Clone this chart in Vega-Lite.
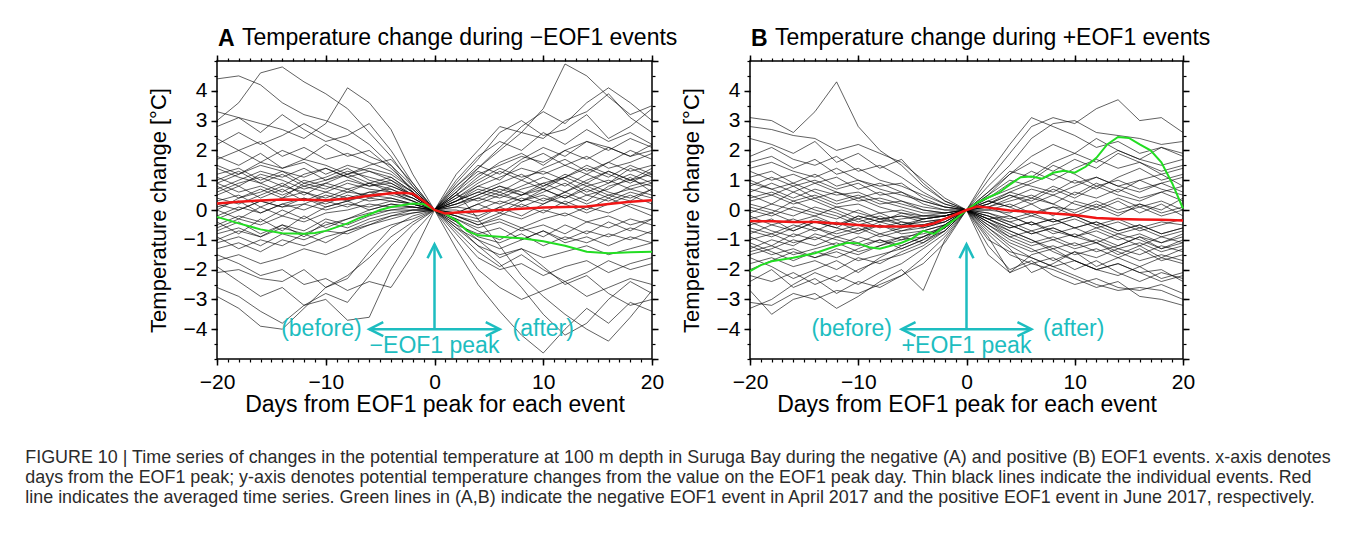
{
"$schema": "https://vega.github.io/schema/vega-lite/v6.json",
"background": "white",
"padding": {"left": 25, "top": 26, "right": 5, "bottom": 5},
"bounds": "flush",
"spacing": 98,
"title": {"text": ["FIGURE 10 | Time series of changes in the potential temperature at 100 m depth in Suruga Bay during the negative (A) and positive (B) EOF1 events. x-axis denotes", "days from the EOF1 peak; y-axis denotes potential temperature changes from the value on the EOF1 peak day. Thin black lines indicate the individual events. Red", "line indicates the averaged time series. Green lines in (A,B) indicate the negative EOF1 event in April 2017 and the positive EOF1 event in June 2017, respectively."], "orient": "bottom", "anchor": "start", "frame": "bounds", "offset": 32, "dx": -121, "font": "Liberation Sans", "fontSize": 17.9, "fontWeight": "normal", "color": "#2b2b2b", "lineHeight": 20},
"config": {
  "view": {"stroke": "#000", "strokeWidth": 1.5},
  "font": "Liberation Sans",
  "axis": {"grid": false, "domain": false, "tickColor": "#000", "labelColor": "#000", "titleColor": "#000", "labelFont": "Liberation Sans", "titleFont": "Liberation Sans", "titleFontWeight": "normal", "labelFlush": false, "labelOverlap": false},
  "title": {"font": "Liberation Sans", "fontSize": 23, "fontWeight": "normal", "anchor": "start", "frame": "group", "color": "#000", "offset": -22, "dx": 25}
},
"datasets": {
"a": [
{"e":1,"d":-20,"t":3.0},{"e":1,"d":-18,"t":3.6},{"e":1,"d":-16,"t":4.6},{"e":1,"d":-14,"t":4.8},{"e":1,"d":-12,"t":4.3},{"e":1,"d":-10,"t":3.9},{"e":1,"d":-8,"t":3.4},{"e":1,"d":-6,"t":2.6},{"e":1,"d":-4,"t":1.8},{"e":1,"d":-2,"t":0.8},{"e":1,"d":0,"t":0},{"e":1,"d":2,"t":0.6},{"e":1,"d":4,"t":1.4},{"e":1,"d":6,"t":2.0},{"e":1,"d":8,"t":2.6},{"e":1,"d":10,"t":3.4},{"e":1,"d":12,"t":4.9},{"e":1,"d":14,"t":4.5},{"e":1,"d":16,"t":3.8},{"e":1,"d":18,"t":3.2},{"e":1,"d":20,"t":3.5},
{"e":2,"d":-20,"t":4.4},{"e":2,"d":-18,"t":4.5},{"e":2,"d":-16,"t":4.2},{"e":2,"d":-14,"t":3.6},{"e":2,"d":-12,"t":3.2},{"e":2,"d":-10,"t":3.0},{"e":2,"d":-8,"t":2.7},{"e":2,"d":-6,"t":2.2},{"e":2,"d":-4,"t":1.5},{"e":2,"d":-2,"t":0.6},{"e":2,"d":0,"t":0},{"e":2,"d":2,"t":-0.5},{"e":2,"d":4,"t":-1.2},{"e":2,"d":6,"t":-1.8},{"e":2,"d":8,"t":-2.6},{"e":2,"d":10,"t":-3.5},{"e":2,"d":12,"t":-4.2},{"e":2,"d":14,"t":-3.8},{"e":2,"d":16,"t":-3.0},{"e":2,"d":18,"t":-2.4},{"e":2,"d":20,"t":-2.8},
{"e":3,"d":-20,"t":2.8},{"e":3,"d":-18,"t":3.1},{"e":3,"d":-16,"t":2.9},{"e":3,"d":-14,"t":2.7},{"e":3,"d":-12,"t":2.4},{"e":3,"d":-10,"t":2.9},{"e":3,"d":-8,"t":4.1},{"e":3,"d":-6,"t":3.6},{"e":3,"d":-4,"t":2.7},{"e":3,"d":-2,"t":1.2},{"e":3,"d":0,"t":0},{"e":3,"d":2,"t":1.2},{"e":3,"d":4,"t":2.0},{"e":3,"d":6,"t":2.8},{"e":3,"d":8,"t":2.6},{"e":3,"d":10,"t":2.4},{"e":3,"d":12,"t":3.0},{"e":3,"d":14,"t":3.3},{"e":3,"d":16,"t":3.9},{"e":3,"d":18,"t":3.1},{"e":3,"d":20,"t":2.6},
{"e":4,"d":-20,"t":3.3},{"e":4,"d":-18,"t":3.1},{"e":4,"d":-16,"t":2.6},{"e":4,"d":-14,"t":3.2},{"e":4,"d":-12,"t":2.7},{"e":4,"d":-10,"t":2.3},{"e":4,"d":-8,"t":2.5},{"e":4,"d":-6,"t":2.9},{"e":4,"d":-4,"t":2.0},{"e":4,"d":-2,"t":0.9},{"e":4,"d":0,"t":0},{"e":4,"d":2,"t":0.9},{"e":4,"d":4,"t":1.7},{"e":4,"d":6,"t":2.6},{"e":4,"d":8,"t":3.0},{"e":4,"d":10,"t":2.5},{"e":4,"d":12,"t":2.7},{"e":4,"d":14,"t":3.2},{"e":4,"d":16,"t":2.4},{"e":4,"d":18,"t":2.8},{"e":4,"d":20,"t":3.4},
{"e":5,"d":-20,"t":2.4},{"e":5,"d":-18,"t":2.0},{"e":5,"d":-16,"t":2.3},{"e":5,"d":-14,"t":1.8},{"e":5,"d":-12,"t":2.1},{"e":5,"d":-10,"t":1.7},{"e":5,"d":-8,"t":1.9},{"e":5,"d":-6,"t":1.6},{"e":5,"d":-4,"t":1.3},{"e":5,"d":-2,"t":0.7},{"e":5,"d":0,"t":0},{"e":5,"d":2,"t":0.5},{"e":5,"d":4,"t":1.1},{"e":5,"d":6,"t":1.6},{"e":5,"d":8,"t":1.9},{"e":5,"d":10,"t":1.5},{"e":5,"d":12,"t":2.0},{"e":5,"d":14,"t":2.3},{"e":5,"d":16,"t":2.1},{"e":5,"d":18,"t":1.8},{"e":5,"d":20,"t":2.2},
{"e":6,"d":-20,"t":1.8},{"e":6,"d":-18,"t":1.5},{"e":6,"d":-16,"t":1.9},{"e":6,"d":-14,"t":1.4},{"e":6,"d":-12,"t":1.6},{"e":6,"d":-10,"t":1.2},{"e":6,"d":-8,"t":1.5},{"e":6,"d":-6,"t":1.3},{"e":6,"d":-4,"t":1.1},{"e":6,"d":-2,"t":0.6},{"e":6,"d":0,"t":0},{"e":6,"d":2,"t":0.4},{"e":6,"d":4,"t":0.9},{"e":6,"d":6,"t":1.3},{"e":6,"d":8,"t":1.0},{"e":6,"d":10,"t":1.4},{"e":6,"d":12,"t":1.7},{"e":6,"d":14,"t":1.3},{"e":6,"d":16,"t":1.6},{"e":6,"d":18,"t":2.0},{"e":6,"d":20,"t":1.7},
{"e":7,"d":-20,"t":1.2},{"e":7,"d":-18,"t":1.4},{"e":7,"d":-16,"t":1.0},{"e":7,"d":-14,"t":1.3},{"e":7,"d":-12,"t":0.9},{"e":7,"d":-10,"t":1.1},{"e":7,"d":-8,"t":1.4},{"e":7,"d":-6,"t":1.0},{"e":7,"d":-4,"t":0.8},{"e":7,"d":-2,"t":0.5},{"e":7,"d":0,"t":0},{"e":7,"d":2,"t":0.3},{"e":7,"d":4,"t":0.6},{"e":7,"d":6,"t":0.9},{"e":7,"d":8,"t":1.2},{"e":7,"d":10,"t":0.8},{"e":7,"d":12,"t":1.1},{"e":7,"d":14,"t":1.5},{"e":7,"d":16,"t":1.2},{"e":7,"d":18,"t":0.9},{"e":7,"d":20,"t":1.3},
{"e":8,"d":-20,"t":0.9},{"e":8,"d":-18,"t":0.6},{"e":8,"d":-16,"t":0.8},{"e":8,"d":-14,"t":0.5},{"e":8,"d":-12,"t":0.8},{"e":8,"d":-10,"t":0.6},{"e":8,"d":-8,"t":0.9},{"e":8,"d":-6,"t":0.7},{"e":8,"d":-4,"t":0.6},{"e":8,"d":-2,"t":0.4},{"e":8,"d":0,"t":0},{"e":8,"d":2,"t":0.2},{"e":8,"d":4,"t":0.4},{"e":8,"d":6,"t":0.2},{"e":8,"d":8,"t":0.5},{"e":8,"d":10,"t":0.7},{"e":8,"d":12,"t":0.4},{"e":8,"d":14,"t":0.8},{"e":8,"d":16,"t":1.0},{"e":8,"d":18,"t":0.7},{"e":8,"d":20,"t":0.9},
{"e":9,"d":-20,"t":0.5},{"e":9,"d":-18,"t":0.8},{"e":9,"d":-16,"t":0.4},{"e":9,"d":-14,"t":0.7},{"e":9,"d":-12,"t":0.3},{"e":9,"d":-10,"t":0.6},{"e":9,"d":-8,"t":0.4},{"e":9,"d":-6,"t":0.6},{"e":9,"d":-4,"t":0.5},{"e":9,"d":-2,"t":0.3},{"e":9,"d":0,"t":0},{"e":9,"d":2,"t":-0.1},{"e":9,"d":4,"t":0.2},{"e":9,"d":6,"t":0.5},{"e":9,"d":8,"t":0.3},{"e":9,"d":10,"t":0.6},{"e":9,"d":12,"t":0.9},{"e":9,"d":14,"t":0.5},{"e":9,"d":16,"t":0.7},{"e":9,"d":18,"t":1.1},{"e":9,"d":20,"t":0.6},
{"e":10,"d":-20,"t":0.2},{"e":10,"d":-18,"t":0.0},{"e":10,"d":-16,"t":0.3},{"e":10,"d":-14,"t":0.1},{"e":10,"d":-12,"t":0.4},{"e":10,"d":-10,"t":0.2},{"e":10,"d":-8,"t":0.5},{"e":10,"d":-6,"t":0.3},{"e":10,"d":-4,"t":0.4},{"e":10,"d":-2,"t":0.2},{"e":10,"d":0,"t":0},{"e":10,"d":2,"t":0.1},{"e":10,"d":4,"t":0.0},{"e":10,"d":6,"t":0.3},{"e":10,"d":8,"t":0.1},{"e":10,"d":10,"t":0.4},{"e":10,"d":12,"t":0.2},{"e":10,"d":14,"t":0.5},{"e":10,"d":16,"t":0.3},{"e":10,"d":18,"t":0.6},{"e":10,"d":20,"t":0.4},
{"e":11,"d":-20,"t":-0.2},{"e":11,"d":-18,"t":0.1},{"e":11,"d":-16,"t":-0.1},{"e":11,"d":-14,"t":0.2},{"e":11,"d":-12,"t":0.0},{"e":11,"d":-10,"t":0.3},{"e":11,"d":-8,"t":0.1},{"e":11,"d":-6,"t":0.4},{"e":11,"d":-4,"t":0.3},{"e":11,"d":-2,"t":0.2},{"e":11,"d":0,"t":0},{"e":11,"d":2,"t":-0.2},{"e":11,"d":4,"t":-0.4},{"e":11,"d":6,"t":-0.1},{"e":11,"d":8,"t":-0.3},{"e":11,"d":10,"t":0.0},{"e":11,"d":12,"t":-0.2},{"e":11,"d":14,"t":0.1},{"e":11,"d":16,"t":-0.1},{"e":11,"d":18,"t":0.2},{"e":11,"d":20,"t":0.0},
{"e":12,"d":-20,"t":-0.6},{"e":12,"d":-18,"t":-0.3},{"e":12,"d":-16,"t":-0.5},{"e":12,"d":-14,"t":-0.2},{"e":12,"d":-12,"t":-0.4},{"e":12,"d":-10,"t":-0.1},{"e":12,"d":-8,"t":0.0},{"e":12,"d":-6,"t":0.2},{"e":12,"d":-4,"t":0.1},{"e":12,"d":-2,"t":0.1},{"e":12,"d":0,"t":0},{"e":12,"d":2,"t":-0.3},{"e":12,"d":4,"t":-0.6},{"e":12,"d":6,"t":-0.4},{"e":12,"d":8,"t":-0.7},{"e":12,"d":10,"t":-0.5},{"e":12,"d":12,"t":-0.8},{"e":12,"d":14,"t":-0.4},{"e":12,"d":16,"t":-0.6},{"e":12,"d":18,"t":-0.3},{"e":12,"d":20,"t":-0.5},
{"e":13,"d":-20,"t":-1.0},{"e":13,"d":-18,"t":-0.7},{"e":13,"d":-16,"t":-0.9},{"e":13,"d":-14,"t":-0.6},{"e":13,"d":-12,"t":-0.8},{"e":13,"d":-10,"t":-0.5},{"e":13,"d":-8,"t":-0.3},{"e":13,"d":-6,"t":-0.1},{"e":13,"d":-4,"t":0.0},{"e":13,"d":-2,"t":0.0},{"e":13,"d":0,"t":0},{"e":13,"d":2,"t":-0.4},{"e":13,"d":4,"t":-0.9},{"e":13,"d":6,"t":-1.1},{"e":13,"d":8,"t":-0.8},{"e":13,"d":10,"t":-1.2},{"e":13,"d":12,"t":-0.9},{"e":13,"d":14,"t":-1.1},{"e":13,"d":16,"t":-0.8},{"e":13,"d":18,"t":-1.0},{"e":13,"d":20,"t":-0.7},
{"e":14,"d":-20,"t":-1.3},{"e":14,"d":-18,"t":-1.1},{"e":14,"d":-16,"t":-1.4},{"e":14,"d":-14,"t":-1.0},{"e":14,"d":-12,"t":-1.2},{"e":14,"d":-10,"t":-0.9},{"e":14,"d":-8,"t":-0.7},{"e":14,"d":-6,"t":-0.4},{"e":14,"d":-4,"t":-0.2},{"e":14,"d":-2,"t":-0.1},{"e":14,"d":0,"t":0},{"e":14,"d":2,"t":-0.6},{"e":14,"d":4,"t":-1.2},{"e":14,"d":6,"t":-1.5},{"e":14,"d":8,"t":-1.3},{"e":14,"d":10,"t":-1.6},{"e":14,"d":12,"t":-1.4},{"e":14,"d":14,"t":-1.2},{"e":14,"d":16,"t":-1.5},{"e":14,"d":18,"t":-1.3},{"e":14,"d":20,"t":-1.1},
{"e":15,"d":-20,"t":-1.7},{"e":15,"d":-18,"t":-1.5},{"e":15,"d":-16,"t":-1.8},{"e":15,"d":-14,"t":-1.6},{"e":15,"d":-12,"t":-1.3},{"e":15,"d":-10,"t":-1.5},{"e":15,"d":-8,"t":-1.2},{"e":15,"d":-6,"t":-0.8},{"e":15,"d":-4,"t":-0.5},{"e":15,"d":-2,"t":-0.3},{"e":15,"d":0,"t":0},{"e":15,"d":2,"t":-0.8},{"e":15,"d":4,"t":-1.6},{"e":15,"d":6,"t":-2.0},{"e":15,"d":8,"t":-1.8},{"e":15,"d":10,"t":-2.2},{"e":15,"d":12,"t":-1.9},{"e":15,"d":14,"t":-1.7},{"e":15,"d":16,"t":-2.1},{"e":15,"d":18,"t":-1.8},{"e":15,"d":20,"t":-1.6},
{"e":16,"d":-20,"t":-2.1},{"e":16,"d":-18,"t":-2.0},{"e":16,"d":-16,"t":-2.3},{"e":16,"d":-14,"t":-2.4},{"e":16,"d":-12,"t":-2.0},{"e":16,"d":-10,"t":-2.6},{"e":16,"d":-8,"t":-2.2},{"e":16,"d":-6,"t":-1.6},{"e":16,"d":-4,"t":-0.9},{"e":16,"d":-2,"t":-0.4},{"e":16,"d":0,"t":0},{"e":16,"d":2,"t":-1.0},{"e":16,"d":4,"t":-2.0},{"e":16,"d":6,"t":-2.6},{"e":16,"d":8,"t":-3.0},{"e":16,"d":10,"t":-2.7},{"e":16,"d":12,"t":-2.4},{"e":16,"d":14,"t":-2.9},{"e":16,"d":16,"t":-2.6},{"e":16,"d":18,"t":-2.3},{"e":16,"d":20,"t":-2.5},
{"e":17,"d":-20,"t":-2.6},{"e":17,"d":-18,"t":-2.9},{"e":17,"d":-16,"t":-3.4},{"e":17,"d":-14,"t":-3.8},{"e":17,"d":-12,"t":-3.2},{"e":17,"d":-10,"t":-2.8},{"e":17,"d":-8,"t":-3.1},{"e":17,"d":-6,"t":-2.2},{"e":17,"d":-4,"t":-1.2},{"e":17,"d":-2,"t":-0.5},{"e":17,"d":0,"t":0},{"e":17,"d":2,"t":-1.3},{"e":17,"d":4,"t":-2.5},{"e":17,"d":6,"t":-3.4},{"e":17,"d":8,"t":-4.2},{"e":17,"d":10,"t":-4.8},{"e":17,"d":12,"t":-4.0},{"e":17,"d":14,"t":-3.3},{"e":17,"d":16,"t":-3.8},{"e":17,"d":18,"t":-3.1},{"e":17,"d":20,"t":-3.4},
{"e":18,"d":-20,"t":-1.9},{"e":18,"d":-18,"t":-2.4},{"e":18,"d":-16,"t":-2.9},{"e":18,"d":-14,"t":-2.6},{"e":18,"d":-12,"t":-3.2},{"e":18,"d":-10,"t":-3.0},{"e":18,"d":-8,"t":-3.7},{"e":18,"d":-6,"t":-3.6},{"e":18,"d":-4,"t":-2.0},{"e":18,"d":-2,"t":-0.8},{"e":18,"d":0,"t":0},{"e":18,"d":2,"t":0.6},{"e":18,"d":4,"t":-0.3},{"e":18,"d":6,"t":-1.2},{"e":18,"d":8,"t":-2.2},{"e":18,"d":10,"t":-2.9},{"e":18,"d":12,"t":-3.5},{"e":18,"d":14,"t":-4.0},{"e":18,"d":16,"t":-4.4},{"e":18,"d":18,"t":-3.6},{"e":18,"d":20,"t":-2.7},
{"e":19,"d":-20,"t":-2.9},{"e":19,"d":-18,"t":-3.3},{"e":19,"d":-16,"t":-3.9},{"e":19,"d":-14,"t":-4.0},{"e":19,"d":-12,"t":-3.3},{"e":19,"d":-10,"t":-2.6},{"e":19,"d":-8,"t":-2.3},{"e":19,"d":-6,"t":-1.4},{"e":19,"d":-4,"t":-0.6},{"e":19,"d":-2,"t":-0.2},{"e":19,"d":0,"t":0},{"e":19,"d":2,"t":-0.7},{"e":19,"d":4,"t":-1.4},{"e":19,"d":6,"t":-1.9},{"e":19,"d":8,"t":-1.5},{"e":19,"d":10,"t":-2.0},{"e":19,"d":12,"t":-2.4},{"e":19,"d":14,"t":-2.1},{"e":19,"d":16,"t":-1.7},{"e":19,"d":18,"t":-2.0},{"e":19,"d":20,"t":-1.8},
{"e":20,"d":-20,"t":0.7},{"e":20,"d":-18,"t":1.0},{"e":20,"d":-16,"t":1.3},{"e":20,"d":-14,"t":1.1},{"e":20,"d":-12,"t":1.4},{"e":20,"d":-10,"t":1.0},{"e":20,"d":-8,"t":1.2},{"e":20,"d":-6,"t":1.5},{"e":20,"d":-4,"t":1.7},{"e":20,"d":-2,"t":0.9},{"e":20,"d":0,"t":0},{"e":20,"d":2,"t":0.7},{"e":20,"d":4,"t":1.3},{"e":20,"d":6,"t":1.0},{"e":20,"d":8,"t":1.6},{"e":20,"d":10,"t":1.9},{"e":20,"d":12,"t":1.5},{"e":20,"d":14,"t":1.8},{"e":20,"d":16,"t":1.4},{"e":20,"d":18,"t":1.6},{"e":20,"d":20,"t":1.9},
{"e":21,"d":-20,"t":1.5},{"e":21,"d":-18,"t":1.2},{"e":21,"d":-16,"t":1.6},{"e":21,"d":-14,"t":2.0},{"e":21,"d":-12,"t":1.7},{"e":21,"d":-10,"t":2.2},{"e":21,"d":-8,"t":1.8},{"e":21,"d":-6,"t":2.0},{"e":21,"d":-4,"t":1.4},{"e":21,"d":-2,"t":0.7},{"e":21,"d":0,"t":0},{"e":21,"d":2,"t":1.0},{"e":21,"d":4,"t":1.8},{"e":21,"d":6,"t":2.3},{"e":21,"d":8,"t":2.0},{"e":21,"d":10,"t":2.6},{"e":21,"d":12,"t":2.2},{"e":21,"d":14,"t":2.7},{"e":21,"d":16,"t":2.3},{"e":21,"d":18,"t":2.6},{"e":21,"d":20,"t":2.2},
{"e":22,"d":-20,"t":0.0},{"e":22,"d":-18,"t":0.4},{"e":22,"d":-16,"t":0.7},{"e":22,"d":-14,"t":0.4},{"e":22,"d":-12,"t":0.9},{"e":22,"d":-10,"t":0.7},{"e":22,"d":-8,"t":1.0},{"e":22,"d":-6,"t":0.8},{"e":22,"d":-4,"t":0.9},{"e":22,"d":-2,"t":0.5},{"e":22,"d":0,"t":0},{"e":22,"d":2,"t":0.3},{"e":22,"d":4,"t":0.7},{"e":22,"d":6,"t":0.5},{"e":22,"d":8,"t":0.8},{"e":22,"d":10,"t":1.1},{"e":22,"d":12,"t":0.8},{"e":22,"d":14,"t":1.2},{"e":22,"d":16,"t":0.9},{"e":22,"d":18,"t":1.4},{"e":22,"d":20,"t":1.1},
{"e":23,"d":-20,"t":-0.4},{"e":23,"d":-18,"t":-0.8},{"e":23,"d":-16,"t":-0.3},{"e":23,"d":-14,"t":-0.7},{"e":23,"d":-12,"t":-0.2},{"e":23,"d":-10,"t":-0.6},{"e":23,"d":-8,"t":-0.3},{"e":23,"d":-6,"t":0.0},{"e":23,"d":-4,"t":0.2},{"e":23,"d":-2,"t":0.1},{"e":23,"d":0,"t":0},{"e":23,"d":2,"t":-0.1},{"e":23,"d":4,"t":-0.3},{"e":23,"d":6,"t":0.1},{"e":23,"d":8,"t":-0.2},{"e":23,"d":10,"t":0.2},{"e":23,"d":12,"t":0.5},{"e":23,"d":14,"t":0.2},{"e":23,"d":16,"t":0.5},{"e":23,"d":18,"t":0.3},{"e":23,"d":20,"t":0.7},
{"e":24,"d":-20,"t":-0.9},{"e":24,"d":-18,"t":-1.3},{"e":24,"d":-16,"t":-1.0},{"e":24,"d":-14,"t":-1.2},{"e":24,"d":-12,"t":-0.8},{"e":24,"d":-10,"t":-1.1},{"e":24,"d":-8,"t":-0.7},{"e":24,"d":-6,"t":-0.5},{"e":24,"d":-4,"t":-0.2},{"e":24,"d":-2,"t":0.0},{"e":24,"d":0,"t":0},{"e":24,"d":2,"t":-0.5},{"e":24,"d":4,"t":-0.8},{"e":24,"d":6,"t":-0.6},{"e":24,"d":8,"t":-1.0},{"e":24,"d":10,"t":-0.7},{"e":24,"d":12,"t":-1.0},{"e":24,"d":14,"t":-0.7},{"e":24,"d":16,"t":-0.9},{"e":24,"d":18,"t":-0.6},{"e":24,"d":20,"t":-0.8},
{"e":25,"d":-20,"t":1.0},{"e":25,"d":-18,"t":1.3},{"e":25,"d":-16,"t":0.9},{"e":25,"d":-14,"t":0.6},{"e":25,"d":-12,"t":1.0},{"e":25,"d":-10,"t":0.8},{"e":25,"d":-8,"t":0.6},{"e":25,"d":-6,"t":0.9},{"e":25,"d":-4,"t":0.7},{"e":25,"d":-2,"t":0.4},{"e":25,"d":0,"t":0},{"e":25,"d":2,"t":0.5},{"e":25,"d":4,"t":1.0},{"e":25,"d":6,"t":1.4},{"e":25,"d":8,"t":1.1},{"e":25,"d":10,"t":1.3},{"e":25,"d":12,"t":1.0},{"e":25,"d":14,"t":0.6},{"e":25,"d":16,"t":0.9},{"e":25,"d":18,"t":1.2},{"e":25,"d":20,"t":0.9},
{"e":26,"d":-20,"t":0.3},{"e":26,"d":-18,"t":0.5},{"e":26,"d":-16,"t":0.1},{"e":26,"d":-14,"t":0.4},{"e":26,"d":-12,"t":0.6},{"e":26,"d":-10,"t":0.3},{"e":26,"d":-8,"t":0.6},{"e":26,"d":-6,"t":0.5},{"e":26,"d":-4,"t":0.8},{"e":26,"d":-2,"t":0.5},{"e":26,"d":0,"t":0},{"e":26,"d":2,"t":-0.2},{"e":26,"d":4,"t":-0.5},{"e":26,"d":6,"t":-0.2},{"e":26,"d":8,"t":0.2},{"e":26,"d":10,"t":-0.1},{"e":26,"d":12,"t":0.3},{"e":26,"d":14,"t":0.0},{"e":26,"d":16,"t":0.4},{"e":26,"d":18,"t":0.1},{"e":26,"d":20,"t":-0.2},
{"e":27,"d":-20,"t":2.2},{"e":27,"d":-18,"t":2.6},{"e":27,"d":-16,"t":2.2},{"e":27,"d":-14,"t":2.5},{"e":27,"d":-12,"t":2.9},{"e":27,"d":-10,"t":2.5},{"e":27,"d":-8,"t":2.2},{"e":27,"d":-6,"t":1.8},{"e":27,"d":-4,"t":1.5},{"e":27,"d":-2,"t":0.8},{"e":27,"d":0,"t":0},{"e":27,"d":2,"t":-0.4},{"e":27,"d":4,"t":-1.0},{"e":27,"d":6,"t":-1.6},{"e":27,"d":8,"t":-1.3},{"e":27,"d":10,"t":-1.9},{"e":27,"d":12,"t":-2.5},{"e":27,"d":14,"t":-2.2},{"e":27,"d":16,"t":-2.8},{"e":27,"d":18,"t":-3.2},{"e":27,"d":20,"t":-3.0},
{"e":28,"d":-20,"t":-1.5},{"e":28,"d":-18,"t":-1.8},{"e":28,"d":-16,"t":-2.2},{"e":28,"d":-14,"t":-2.0},{"e":28,"d":-12,"t":-2.5},{"e":28,"d":-10,"t":-2.3},{"e":28,"d":-8,"t":-2.7},{"e":28,"d":-6,"t":-2.4},{"e":28,"d":-4,"t":-2.6},{"e":28,"d":-2,"t":-1.5},{"e":28,"d":0,"t":0},{"e":28,"d":2,"t":0.8},{"e":28,"d":4,"t":1.4},{"e":28,"d":6,"t":2.1},{"e":28,"d":8,"t":2.8},{"e":28,"d":10,"t":3.3},{"e":28,"d":12,"t":2.9},{"e":28,"d":14,"t":3.6},{"e":28,"d":16,"t":4.1},{"e":28,"d":18,"t":3.6},{"e":28,"d":20,"t":3.0},
{"e":29,"d":-20,"t":0.8},{"e":29,"d":-18,"t":0.4},{"e":29,"d":-16,"t":0.6},{"e":29,"d":-14,"t":0.9},{"e":29,"d":-12,"t":0.5},{"e":29,"d":-10,"t":0.9},{"e":29,"d":-8,"t":0.7},{"e":29,"d":-6,"t":0.4},{"e":29,"d":-4,"t":0.6},{"e":29,"d":-2,"t":0.3},{"e":29,"d":0,"t":0},{"e":29,"d":2,"t":0.2},{"e":29,"d":4,"t":0.5},{"e":29,"d":6,"t":0.8},{"e":29,"d":8,"t":0.6},{"e":29,"d":10,"t":0.3},{"e":29,"d":12,"t":0.6},{"e":29,"d":14,"t":0.9},{"e":29,"d":16,"t":0.6},{"e":29,"d":18,"t":0.4},{"e":29,"d":20,"t":0.7},
{"e":30,"d":-20,"t":-0.7},{"e":30,"d":-18,"t":-0.4},{"e":30,"d":-16,"t":-0.8},{"e":30,"d":-14,"t":-0.5},{"e":30,"d":-12,"t":-0.9},{"e":30,"d":-10,"t":-0.4},{"e":30,"d":-8,"t":-0.6},{"e":30,"d":-6,"t":-0.3},{"e":30,"d":-4,"t":-0.1},{"e":30,"d":-2,"t":0.0},{"e":30,"d":0,"t":0},{"e":30,"d":2,"t":-0.3},{"e":30,"d":4,"t":-0.7},{"e":30,"d":6,"t":-1.0},{"e":30,"d":8,"t":-0.6},{"e":30,"d":10,"t":-0.9},{"e":30,"d":12,"t":-0.5},{"e":30,"d":14,"t":-0.8},{"e":30,"d":16,"t":-0.4},{"e":30,"d":18,"t":-0.7},{"e":30,"d":20,"t":-0.3},
{"e":31,"d":-20,"t":0.6},{"e":31,"d":-18,"t":0.9},{"e":31,"d":-16,"t":1.1},{"e":31,"d":-14,"t":0.8},{"e":31,"d":-12,"t":1.2},{"e":31,"d":-10,"t":1.4},{"e":31,"d":-8,"t":1.1},{"e":31,"d":-6,"t":1.3},{"e":31,"d":-4,"t":1.0},{"e":31,"d":-2,"t":0.6},{"e":31,"d":0,"t":0},{"e":31,"d":2,"t":0.4},{"e":31,"d":4,"t":0.8},{"e":31,"d":6,"t":1.1},{"e":31,"d":8,"t":1.4},{"e":31,"d":10,"t":1.2},{"e":31,"d":12,"t":1.5},{"e":31,"d":14,"t":1.2},{"e":31,"d":16,"t":1.6},{"e":31,"d":18,"t":1.3},{"e":31,"d":20,"t":1.5},
{"e":32,"d":-20,"t":1.4},{"e":32,"d":-18,"t":1.1},{"e":32,"d":-16,"t":0.9},{"e":32,"d":-14,"t":1.2},{"e":32,"d":-12,"t":0.8},{"e":32,"d":-10,"t":1.0},{"e":32,"d":-8,"t":1.3},{"e":32,"d":-6,"t":1.1},{"e":32,"d":-4,"t":0.9},{"e":32,"d":-2,"t":0.5},{"e":32,"d":0,"t":0},{"e":32,"d":2,"t":0.6},{"e":32,"d":4,"t":1.2},{"e":32,"d":6,"t":1.5},{"e":32,"d":8,"t":1.8},{"e":32,"d":10,"t":1.6},{"e":32,"d":12,"t":2.0},{"e":32,"d":14,"t":1.7},{"e":32,"d":16,"t":2.1},{"e":32,"d":18,"t":1.8},{"e":32,"d":20,"t":2.0},
{"e":33,"d":-20,"t":-0.3},{"e":33,"d":-18,"t":0.0},{"e":33,"d":-16,"t":0.3},{"e":33,"d":-14,"t":0.1},{"e":33,"d":-12,"t":0.2},{"e":33,"d":-10,"t":0.5},{"e":33,"d":-8,"t":0.3},{"e":33,"d":-6,"t":0.6},{"e":33,"d":-4,"t":0.7},{"e":33,"d":-2,"t":0.4},{"e":33,"d":0,"t":0},{"e":33,"d":2,"t":0.0},{"e":33,"d":4,"t":-0.2},{"e":33,"d":6,"t":0.1},{"e":33,"d":8,"t":0.4},{"e":33,"d":10,"t":0.2},{"e":33,"d":12,"t":0.6},{"e":33,"d":14,"t":0.3},{"e":33,"d":16,"t":0.8},{"e":33,"d":18,"t":1.0},{"e":33,"d":20,"t":0.8},
{"e":34,"d":-20,"t":0.4},{"e":34,"d":-18,"t":0.2},{"e":34,"d":-16,"t":0.5},{"e":34,"d":-14,"t":0.8},{"e":34,"d":-12,"t":0.6},{"e":34,"d":-10,"t":0.4},{"e":34,"d":-8,"t":0.7},{"e":34,"d":-6,"t":0.9},{"e":34,"d":-4,"t":0.6},{"e":34,"d":-2,"t":0.3},{"e":34,"d":0,"t":0},{"e":34,"d":2,"t":0.3},{"e":34,"d":4,"t":0.6},{"e":34,"d":6,"t":0.4},{"e":34,"d":8,"t":0.7},{"e":34,"d":10,"t":0.9},{"e":34,"d":12,"t":1.1},{"e":34,"d":14,"t":0.8},{"e":34,"d":16,"t":0.5},{"e":34,"d":18,"t":0.7},{"e":34,"d":20,"t":0.5},
{"e":35,"d":-20,"t":-0.5},{"e":35,"d":-18,"t":-0.2},{"e":35,"d":-16,"t":-0.4},{"e":35,"d":-14,"t":0.0},{"e":35,"d":-12,"t":-0.3},{"e":35,"d":-10,"t":0.1},{"e":35,"d":-8,"t":0.3},{"e":35,"d":-6,"t":0.0},{"e":35,"d":-4,"t":0.2},{"e":35,"d":-2,"t":0.1},{"e":35,"d":0,"t":0},{"e":35,"d":2,"t":-0.1},{"e":35,"d":4,"t":0.2},{"e":35,"d":6,"t":-0.1},{"e":35,"d":8,"t":0.3},{"e":35,"d":10,"t":0.5},{"e":35,"d":12,"t":0.2},{"e":35,"d":14,"t":-0.1},{"e":35,"d":16,"t":0.2},{"e":35,"d":18,"t":0.5},{"e":35,"d":20,"t":0.2},
{"e":36,"d":-20,"t":1.1},{"e":36,"d":-18,"t":0.8},{"e":36,"d":-16,"t":1.2},{"e":36,"d":-14,"t":1.0},{"e":36,"d":-12,"t":0.7},{"e":36,"d":-10,"t":0.9},{"e":36,"d":-8,"t":1.2},{"e":36,"d":-6,"t":0.9},{"e":36,"d":-4,"t":1.1},{"e":36,"d":-2,"t":0.6},{"e":36,"d":0,"t":0},{"e":36,"d":2,"t":0.2},{"e":36,"d":4,"t":0.5},{"e":36,"d":6,"t":0.8},{"e":36,"d":8,"t":0.5},{"e":36,"d":10,"t":0.9},{"e":36,"d":12,"t":0.6},{"e":36,"d":14,"t":1.0},{"e":36,"d":16,"t":1.3},{"e":36,"d":18,"t":1.0},{"e":36,"d":20,"t":1.2},
{"e":37,"d":-20,"t":0.1},{"e":37,"d":-18,"t":0.3},{"e":37,"d":-16,"t":-0.1},{"e":37,"d":-14,"t":0.2},{"e":37,"d":-12,"t":0.4},{"e":37,"d":-10,"t":0.1},{"e":37,"d":-8,"t":0.3},{"e":37,"d":-6,"t":0.5},{"e":37,"d":-4,"t":0.4},{"e":37,"d":-2,"t":0.2},{"e":37,"d":0,"t":0},{"e":37,"d":2,"t":0.3},{"e":37,"d":4,"t":0.8},{"e":37,"d":6,"t":0.6},{"e":37,"d":8,"t":1.0},{"e":37,"d":10,"t":0.7},{"e":37,"d":12,"t":1.1},{"e":37,"d":14,"t":1.4},{"e":37,"d":16,"t":1.1},{"e":37,"d":18,"t":1.5},{"e":37,"d":20,"t":1.2},
{"e":38,"d":-20,"t":-0.8},{"e":38,"d":-18,"t":-0.6},{"e":38,"d":-16,"t":-0.9},{"e":38,"d":-14,"t":-0.5},{"e":38,"d":-12,"t":-0.7},{"e":38,"d":-10,"t":-0.3},{"e":38,"d":-8,"t":-0.5},{"e":38,"d":-6,"t":-0.2},{"e":38,"d":-4,"t":0.0},{"e":38,"d":-2,"t":0.1},{"e":38,"d":0,"t":0},{"e":38,"d":2,"t":-0.2},{"e":38,"d":4,"t":-0.5},{"e":38,"d":6,"t":-0.3},{"e":38,"d":8,"t":-0.6},{"e":38,"d":10,"t":-0.3},{"e":38,"d":12,"t":-0.1},{"e":38,"d":14,"t":-0.4},{"e":38,"d":16,"t":-0.2},{"e":38,"d":18,"t":-0.5},{"e":38,"d":20,"t":-0.3},
{"e":39,"d":-20,"t":0.9},{"e":39,"d":-18,"t":1.2},{"e":39,"d":-16,"t":1.5},{"e":39,"d":-14,"t":1.3},{"e":39,"d":-12,"t":1.1},{"e":39,"d":-10,"t":1.4},{"e":39,"d":-8,"t":1.1},{"e":39,"d":-6,"t":0.8},{"e":39,"d":-4,"t":1.0},{"e":39,"d":-2,"t":0.5},{"e":39,"d":0,"t":0},{"e":39,"d":2,"t":0.5},{"e":39,"d":4,"t":0.3},{"e":39,"d":6,"t":0.6},{"e":39,"d":8,"t":0.3},{"e":39,"d":10,"t":0.7},{"e":39,"d":12,"t":0.4},{"e":39,"d":14,"t":0.7},{"e":39,"d":16,"t":0.4},{"e":39,"d":18,"t":0.8},{"e":39,"d":20,"t":1.0},
{"e":40,"d":-20,"t":0.0},{"e":40,"d":-18,"t":-0.3},{"e":40,"d":-16,"t":0.1},{"e":40,"d":-14,"t":-0.2},{"e":40,"d":-12,"t":0.2},{"e":40,"d":-10,"t":0.0},{"e":40,"d":-8,"t":0.2},{"e":40,"d":-6,"t":0.1},{"e":40,"d":-4,"t":0.3},{"e":40,"d":-2,"t":0.2},{"e":40,"d":0,"t":0},{"e":40,"d":2,"t":0.1},{"e":40,"d":4,"t":0.4},{"e":40,"d":6,"t":0.7},{"e":40,"d":8,"t":0.5},{"e":40,"d":10,"t":0.8},{"e":40,"d":12,"t":1.2},{"e":40,"d":14,"t":0.9},{"e":40,"d":16,"t":1.3},{"e":40,"d":18,"t":1.0},{"e":40,"d":20,"t":1.4},
{"e":41,"d":-20,"t":1.7},{"e":41,"d":-18,"t":2.0},{"e":41,"d":-16,"t":1.6},{"e":41,"d":-14,"t":1.4},{"e":41,"d":-12,"t":1.7},{"e":41,"d":-10,"t":1.5},{"e":41,"d":-8,"t":1.2},{"e":41,"d":-6,"t":1.4},{"e":41,"d":-4,"t":1.2},{"e":41,"d":-2,"t":0.7},{"e":41,"d":0,"t":0},{"e":41,"d":2,"t":0.8},{"e":41,"d":4,"t":1.5},{"e":41,"d":6,"t":1.2},{"e":41,"d":8,"t":1.7},{"e":41,"d":10,"t":2.1},{"e":41,"d":12,"t":1.8},{"e":41,"d":14,"t":2.3},{"e":41,"d":16,"t":2.0},{"e":41,"d":18,"t":2.4},{"e":41,"d":20,"t":2.1},
{"e":42,"d":-20,"t":-1.1},{"e":42,"d":-18,"t":-0.9},{"e":42,"d":-16,"t":-1.2},{"e":42,"d":-14,"t":-0.8},{"e":42,"d":-12,"t":-1.0},{"e":42,"d":-10,"t":-0.7},{"e":42,"d":-8,"t":-0.8},{"e":42,"d":-6,"t":-0.5},{"e":42,"d":-4,"t":-0.3},{"e":42,"d":-2,"t":-0.1},{"e":42,"d":0,"t":0},{"e":42,"d":2,"t":-0.6},{"e":42,"d":4,"t":-1.0},{"e":42,"d":6,"t":-1.3},{"e":42,"d":8,"t":-1.0},{"e":42,"d":10,"t":-0.7},{"e":42,"d":12,"t":-1.1},{"e":42,"d":14,"t":-0.9},{"e":42,"d":16,"t":-1.2},{"e":42,"d":18,"t":-0.9},{"e":42,"d":20,"t":-1.1}
],
"b": [
{"e":1,"d":-20,"t":3.1},{"e":1,"d":-18,"t":3.0},{"e":1,"d":-16,"t":2.6},{"e":1,"d":-14,"t":3.3},{"e":1,"d":-12,"t":4.3},{"e":1,"d":-10,"t":2.8},{"e":1,"d":-8,"t":2.0},{"e":1,"d":-6,"t":1.5},{"e":1,"d":-4,"t":0.8},{"e":1,"d":-2,"t":0.3},{"e":1,"d":0,"t":0},{"e":1,"d":2,"t":1.0},{"e":1,"d":4,"t":1.9},{"e":1,"d":6,"t":2.8},{"e":1,"d":8,"t":3.1},{"e":1,"d":10,"t":2.9},{"e":1,"d":12,"t":3.4},{"e":1,"d":14,"t":3.7},{"e":1,"d":16,"t":3.0},{"e":1,"d":18,"t":3.1},{"e":1,"d":20,"t":2.6},
{"e":2,"d":-20,"t":2.8},{"e":2,"d":-18,"t":2.7},{"e":2,"d":-16,"t":2.5},{"e":2,"d":-14,"t":2.4},{"e":2,"d":-12,"t":2.0},{"e":2,"d":-10,"t":2.2},{"e":2,"d":-8,"t":1.9},{"e":2,"d":-6,"t":1.6},{"e":2,"d":-4,"t":1.0},{"e":2,"d":-2,"t":0.4},{"e":2,"d":0,"t":0},{"e":2,"d":2,"t":0.8},{"e":2,"d":4,"t":1.5},{"e":2,"d":6,"t":2.4},{"e":2,"d":8,"t":2.9},{"e":2,"d":10,"t":3.0},{"e":2,"d":12,"t":2.6},{"e":2,"d":14,"t":2.5},{"e":2,"d":16,"t":2.4},{"e":2,"d":18,"t":2.2},{"e":2,"d":20,"t":2.3},
{"e":3,"d":-20,"t":2.4},{"e":3,"d":-18,"t":2.2},{"e":3,"d":-16,"t":1.9},{"e":3,"d":-14,"t":2.3},{"e":3,"d":-12,"t":1.6},{"e":3,"d":-10,"t":1.9},{"e":3,"d":-8,"t":1.4},{"e":3,"d":-6,"t":1.7},{"e":3,"d":-4,"t":0.9},{"e":3,"d":-2,"t":0.3},{"e":3,"d":0,"t":0},{"e":3,"d":2,"t":0.5},{"e":3,"d":4,"t":1.2},{"e":3,"d":6,"t":1.8},{"e":3,"d":8,"t":2.2},{"e":3,"d":10,"t":1.9},{"e":3,"d":12,"t":2.4},{"e":3,"d":14,"t":2.0},{"e":3,"d":16,"t":1.7},{"e":3,"d":18,"t":2.1},{"e":3,"d":20,"t":1.9},
{"e":4,"d":-20,"t":1.6},{"e":4,"d":-18,"t":1.8},{"e":4,"d":-16,"t":1.4},{"e":4,"d":-14,"t":1.7},{"e":4,"d":-12,"t":1.2},{"e":4,"d":-10,"t":1.4},{"e":4,"d":-8,"t":1.0},{"e":4,"d":-6,"t":0.8},{"e":4,"d":-4,"t":0.5},{"e":4,"d":-2,"t":0.2},{"e":4,"d":0,"t":0},{"e":4,"d":2,"t":0.4},{"e":4,"d":4,"t":0.9},{"e":4,"d":6,"t":1.3},{"e":4,"d":8,"t":1.0},{"e":4,"d":10,"t":1.4},{"e":4,"d":12,"t":1.7},{"e":4,"d":14,"t":1.4},{"e":4,"d":16,"t":1.6},{"e":4,"d":18,"t":1.3},{"e":4,"d":20,"t":1.5},
{"e":5,"d":-20,"t":1.1},{"e":5,"d":-18,"t":1.3},{"e":5,"d":-16,"t":0.9},{"e":5,"d":-14,"t":1.2},{"e":5,"d":-12,"t":0.8},{"e":5,"d":-10,"t":1.0},{"e":5,"d":-8,"t":0.7},{"e":5,"d":-6,"t":0.5},{"e":5,"d":-4,"t":0.3},{"e":5,"d":-2,"t":0.1},{"e":5,"d":0,"t":0},{"e":5,"d":2,"t":0.2},{"e":5,"d":4,"t":0.6},{"e":5,"d":6,"t":0.9},{"e":5,"d":8,"t":1.2},{"e":5,"d":10,"t":0.9},{"e":5,"d":12,"t":1.1},{"e":5,"d":14,"t":0.8},{"e":5,"d":16,"t":1.0},{"e":5,"d":18,"t":1.2},{"e":5,"d":20,"t":0.8},
{"e":6,"d":-20,"t":0.7},{"e":6,"d":-18,"t":0.5},{"e":6,"d":-16,"t":0.8},{"e":6,"d":-14,"t":0.4},{"e":6,"d":-12,"t":0.6},{"e":6,"d":-10,"t":0.3},{"e":6,"d":-8,"t":0.4},{"e":6,"d":-6,"t":0.2},{"e":6,"d":-4,"t":0.0},{"e":6,"d":-2,"t":-0.1},{"e":6,"d":0,"t":0},{"e":6,"d":2,"t":0.1},{"e":6,"d":4,"t":0.3},{"e":6,"d":6,"t":0.5},{"e":6,"d":8,"t":0.2},{"e":6,"d":10,"t":0.6},{"e":6,"d":12,"t":0.4},{"e":6,"d":14,"t":0.7},{"e":6,"d":16,"t":0.4},{"e":6,"d":18,"t":0.6},{"e":6,"d":20,"t":0.3},
{"e":7,"d":-20,"t":0.3},{"e":7,"d":-18,"t":0.5},{"e":7,"d":-16,"t":0.2},{"e":7,"d":-14,"t":0.4},{"e":7,"d":-12,"t":0.1},{"e":7,"d":-10,"t":0.2},{"e":7,"d":-8,"t":-0.1},{"e":7,"d":-6,"t":0.0},{"e":7,"d":-4,"t":-0.2},{"e":7,"d":-2,"t":-0.2},{"e":7,"d":0,"t":0},{"e":7,"d":2,"t":0.0},{"e":7,"d":4,"t":0.2},{"e":7,"d":6,"t":-0.1},{"e":7,"d":8,"t":0.1},{"e":7,"d":10,"t":0.0},{"e":7,"d":12,"t":0.3},{"e":7,"d":14,"t":0.0},{"e":7,"d":16,"t":0.2},{"e":7,"d":18,"t":-0.1},{"e":7,"d":20,"t":0.1},
{"e":8,"d":-20,"t":0.0},{"e":8,"d":-18,"t":-0.2},{"e":8,"d":-16,"t":0.1},{"e":8,"d":-14,"t":-0.1},{"e":8,"d":-12,"t":-0.3},{"e":8,"d":-10,"t":0.0},{"e":8,"d":-8,"t":-0.3},{"e":8,"d":-6,"t":-0.2},{"e":8,"d":-4,"t":-0.4},{"e":8,"d":-2,"t":-0.3},{"e":8,"d":0,"t":0},{"e":8,"d":2,"t":-0.1},{"e":8,"d":4,"t":-0.3},{"e":8,"d":6,"t":-0.1},{"e":8,"d":8,"t":-0.4},{"e":8,"d":10,"t":-0.2},{"e":8,"d":12,"t":-0.5},{"e":8,"d":14,"t":-0.3},{"e":8,"d":16,"t":-0.6},{"e":8,"d":18,"t":-0.4},{"e":8,"d":20,"t":-0.5},
{"e":9,"d":-20,"t":-0.3},{"e":9,"d":-18,"t":-0.1},{"e":9,"d":-16,"t":-0.4},{"e":9,"d":-14,"t":-0.2},{"e":9,"d":-12,"t":-0.5},{"e":9,"d":-10,"t":-0.3},{"e":9,"d":-8,"t":-0.6},{"e":9,"d":-6,"t":-0.4},{"e":9,"d":-4,"t":-0.6},{"e":9,"d":-2,"t":-0.4},{"e":9,"d":0,"t":0},{"e":9,"d":2,"t":0.1},{"e":9,"d":4,"t":-0.2},{"e":9,"d":6,"t":-0.5},{"e":9,"d":8,"t":-0.3},{"e":9,"d":10,"t":-0.6},{"e":9,"d":12,"t":-0.4},{"e":9,"d":14,"t":-0.7},{"e":9,"d":16,"t":-0.5},{"e":9,"d":18,"t":-0.8},{"e":9,"d":20,"t":-0.6},
{"e":10,"d":-20,"t":-0.6},{"e":10,"d":-18,"t":-0.8},{"e":10,"d":-16,"t":-0.5},{"e":10,"d":-14,"t":-0.7},{"e":10,"d":-12,"t":-0.4},{"e":10,"d":-10,"t":-0.7},{"e":10,"d":-8,"t":-0.5},{"e":10,"d":-6,"t":-0.8},{"e":10,"d":-4,"t":-0.7},{"e":10,"d":-2,"t":-0.5},{"e":10,"d":0,"t":0},{"e":10,"d":2,"t":-0.2},{"e":10,"d":4,"t":-0.5},{"e":10,"d":6,"t":-0.8},{"e":10,"d":8,"t":-0.6},{"e":10,"d":10,"t":-0.9},{"e":10,"d":12,"t":-0.7},{"e":10,"d":14,"t":-1.0},{"e":10,"d":16,"t":-0.8},{"e":10,"d":18,"t":-1.1},{"e":10,"d":20,"t":-0.9},
{"e":11,"d":-20,"t":-1.0},{"e":11,"d":-18,"t":-0.8},{"e":11,"d":-16,"t":-1.1},{"e":11,"d":-14,"t":-0.9},{"e":11,"d":-12,"t":-1.2},{"e":11,"d":-10,"t":-0.9},{"e":11,"d":-8,"t":-1.1},{"e":11,"d":-6,"t":-0.9},{"e":11,"d":-4,"t":-0.8},{"e":11,"d":-2,"t":-0.6},{"e":11,"d":0,"t":0},{"e":11,"d":2,"t":-0.4},{"e":11,"d":4,"t":-0.8},{"e":11,"d":6,"t":-1.1},{"e":11,"d":8,"t":-0.9},{"e":11,"d":10,"t":-1.2},{"e":11,"d":12,"t":-1.0},{"e":11,"d":14,"t":-1.3},{"e":11,"d":16,"t":-1.1},{"e":11,"d":18,"t":-1.4},{"e":11,"d":20,"t":-1.2},
{"e":12,"d":-20,"t":-1.4},{"e":12,"d":-18,"t":-1.2},{"e":12,"d":-16,"t":-1.5},{"e":12,"d":-14,"t":-1.3},{"e":12,"d":-12,"t":-1.1},{"e":12,"d":-10,"t":-1.4},{"e":12,"d":-8,"t":-1.2},{"e":12,"d":-6,"t":-1.0},{"e":12,"d":-4,"t":-0.9},{"e":12,"d":-2,"t":-0.6},{"e":12,"d":0,"t":0},{"e":12,"d":2,"t":-0.6},{"e":12,"d":4,"t":-1.1},{"e":12,"d":6,"t":-1.4},{"e":12,"d":8,"t":-1.2},{"e":12,"d":10,"t":-1.5},{"e":12,"d":12,"t":-1.3},{"e":12,"d":14,"t":-1.6},{"e":12,"d":16,"t":-1.9},{"e":12,"d":18,"t":-1.6},{"e":12,"d":20,"t":-1.8},
{"e":13,"d":-20,"t":-1.8},{"e":13,"d":-18,"t":-1.6},{"e":13,"d":-16,"t":-1.9},{"e":13,"d":-14,"t":-1.7},{"e":13,"d":-12,"t":-2.0},{"e":13,"d":-10,"t":-1.6},{"e":13,"d":-8,"t":-1.8},{"e":13,"d":-6,"t":-1.4},{"e":13,"d":-4,"t":-1.1},{"e":13,"d":-2,"t":-0.7},{"e":13,"d":0,"t":0},{"e":13,"d":2,"t":-0.8},{"e":13,"d":4,"t":-1.5},{"e":13,"d":6,"t":-1.8},{"e":13,"d":8,"t":-1.6},{"e":13,"d":10,"t":-2.0},{"e":13,"d":12,"t":-1.7},{"e":13,"d":14,"t":-2.1},{"e":13,"d":16,"t":-2.4},{"e":13,"d":18,"t":-2.1},{"e":13,"d":20,"t":-2.3},
{"e":14,"d":-20,"t":-2.2},{"e":14,"d":-18,"t":-2.4},{"e":14,"d":-16,"t":-2.1},{"e":14,"d":-14,"t":-2.5},{"e":14,"d":-12,"t":-2.2},{"e":14,"d":-10,"t":-2.5},{"e":14,"d":-8,"t":-2.1},{"e":14,"d":-6,"t":-1.8},{"e":14,"d":-4,"t":-1.3},{"e":14,"d":-2,"t":-0.8},{"e":14,"d":0,"t":0},{"e":14,"d":2,"t":-1.2},{"e":14,"d":4,"t":-2.0},{"e":14,"d":6,"t":-1.7},{"e":14,"d":8,"t":-2.2},{"e":14,"d":10,"t":-2.5},{"e":14,"d":12,"t":-2.3},{"e":14,"d":14,"t":-2.6},{"e":14,"d":16,"t":-2.7},{"e":14,"d":18,"t":-2.5},{"e":14,"d":20,"t":-2.8},
{"e":15,"d":-20,"t":-2.7},{"e":15,"d":-18,"t":-3.5},{"e":15,"d":-16,"t":-3.0},{"e":15,"d":-14,"t":-2.8},{"e":15,"d":-12,"t":-3.3},{"e":15,"d":-10,"t":-2.9},{"e":15,"d":-8,"t":-2.4},{"e":15,"d":-6,"t":-2.0},{"e":15,"d":-4,"t":-2.7},{"e":15,"d":-2,"t":-1.0},{"e":15,"d":0,"t":0},{"e":15,"d":2,"t":-1.5},{"e":15,"d":4,"t":-2.1},{"e":15,"d":6,"t":-1.8},{"e":15,"d":8,"t":-2.0},{"e":15,"d":10,"t":-2.3},{"e":15,"d":12,"t":-2.6},{"e":15,"d":14,"t":-2.4},{"e":15,"d":16,"t":-2.9},{"e":15,"d":18,"t":-3.0},{"e":15,"d":20,"t":-3.2},
{"e":16,"d":-20,"t":-3.1},{"e":16,"d":-18,"t":-3.2},{"e":16,"d":-16,"t":-2.8},{"e":16,"d":-14,"t":-3.0},{"e":16,"d":-12,"t":-2.7},{"e":16,"d":-10,"t":-2.8},{"e":16,"d":-8,"t":-2.5},{"e":16,"d":-6,"t":-2.2},{"e":16,"d":-4,"t":-1.6},{"e":16,"d":-2,"t":-0.9},{"e":16,"d":0,"t":0},{"e":16,"d":2,"t":-1.0},{"e":16,"d":4,"t":-1.4},{"e":16,"d":6,"t":-1.6},{"e":16,"d":8,"t":-1.9},{"e":16,"d":10,"t":-2.2},{"e":16,"d":12,"t":-2.5},{"e":16,"d":14,"t":-2.7},{"e":16,"d":16,"t":-2.6},{"e":16,"d":18,"t":-2.7},{"e":16,"d":20,"t":-3.0},
{"e":17,"d":-20,"t":1.3},{"e":17,"d":-18,"t":1.0},{"e":17,"d":-16,"t":1.2},{"e":17,"d":-14,"t":0.9},{"e":17,"d":-12,"t":1.1},{"e":17,"d":-10,"t":0.7},{"e":17,"d":-8,"t":0.9},{"e":17,"d":-6,"t":0.6},{"e":17,"d":-4,"t":0.2},{"e":17,"d":-2,"t":0.0},{"e":17,"d":0,"t":0},{"e":17,"d":2,"t":-0.3},{"e":17,"d":4,"t":-0.7},{"e":17,"d":6,"t":-1.0},{"e":17,"d":8,"t":-1.4},{"e":17,"d":10,"t":-1.7},{"e":17,"d":12,"t":-2.0},{"e":17,"d":14,"t":-1.8},{"e":17,"d":16,"t":-2.1},{"e":17,"d":18,"t":-2.0},{"e":17,"d":20,"t":-2.4},
{"e":18,"d":-20,"t":-0.9},{"e":18,"d":-18,"t":-1.2},{"e":18,"d":-16,"t":-0.8},{"e":18,"d":-14,"t":-1.0},{"e":18,"d":-12,"t":-0.7},{"e":18,"d":-10,"t":-0.5},{"e":18,"d":-8,"t":-0.8},{"e":18,"d":-6,"t":-0.6},{"e":18,"d":-4,"t":-0.3},{"e":18,"d":-2,"t":-0.2},{"e":18,"d":0,"t":0},{"e":18,"d":2,"t":0.6},{"e":18,"d":4,"t":1.2},{"e":18,"d":6,"t":1.6},{"e":18,"d":8,"t":1.3},{"e":18,"d":10,"t":1.7},{"e":18,"d":12,"t":1.4},{"e":18,"d":14,"t":1.9},{"e":18,"d":16,"t":1.6},{"e":18,"d":18,"t":1.2},{"e":18,"d":20,"t":1.4},
{"e":19,"d":-20,"t":-1.6},{"e":19,"d":-18,"t":-1.9},{"e":19,"d":-16,"t":-2.3},{"e":19,"d":-14,"t":-2.0},{"e":19,"d":-12,"t":-1.7},{"e":19,"d":-10,"t":-2.1},{"e":19,"d":-8,"t":-1.6},{"e":19,"d":-6,"t":-1.2},{"e":19,"d":-4,"t":-0.9},{"e":19,"d":-2,"t":-0.5},{"e":19,"d":0,"t":0},{"e":19,"d":2,"t":0.3},{"e":19,"d":4,"t":0.6},{"e":19,"d":6,"t":0.4},{"e":19,"d":8,"t":0.8},{"e":19,"d":10,"t":0.5},{"e":19,"d":12,"t":0.9},{"e":19,"d":14,"t":0.6},{"e":19,"d":16,"t":1.0},{"e":19,"d":18,"t":0.7},{"e":19,"d":20,"t":0.5},
{"e":20,"d":-20,"t":0.5},{"e":20,"d":-18,"t":0.2},{"e":20,"d":-16,"t":0.6},{"e":20,"d":-14,"t":0.3},{"e":20,"d":-12,"t":0.0},{"e":20,"d":-10,"t":-0.3},{"e":20,"d":-8,"t":-0.1},{"e":20,"d":-6,"t":-0.4},{"e":20,"d":-4,"t":-0.5},{"e":20,"d":-2,"t":-0.3},{"e":20,"d":0,"t":0},{"e":20,"d":2,"t":-0.5},{"e":20,"d":4,"t":-1.0},{"e":20,"d":6,"t":-1.3},{"e":20,"d":8,"t":-1.7},{"e":20,"d":10,"t":-1.4},{"e":20,"d":12,"t":-1.9},{"e":20,"d":14,"t":-1.6},{"e":20,"d":16,"t":-1.3},{"e":20,"d":18,"t":-1.7},{"e":20,"d":20,"t":-1.5},
{"e":21,"d":-20,"t":-0.2},{"e":21,"d":-18,"t":-0.5},{"e":21,"d":-16,"t":-0.3},{"e":21,"d":-14,"t":-0.6},{"e":21,"d":-12,"t":-0.8},{"e":21,"d":-10,"t":-0.6},{"e":21,"d":-8,"t":-0.9},{"e":21,"d":-6,"t":-0.7},{"e":21,"d":-4,"t":-0.5},{"e":21,"d":-2,"t":-0.4},{"e":21,"d":0,"t":0},{"e":21,"d":2,"t":0.2},{"e":21,"d":4,"t":0.5},{"e":21,"d":6,"t":0.2},{"e":21,"d":8,"t":0.5},{"e":21,"d":10,"t":0.2},{"e":21,"d":12,"t":0.0},{"e":21,"d":14,"t":0.3},{"e":21,"d":16,"t":-0.1},{"e":21,"d":18,"t":0.2},{"e":21,"d":20,"t":-0.2},
{"e":22,"d":-20,"t":-1.2},{"e":22,"d":-18,"t":-1.5},{"e":22,"d":-16,"t":-1.3},{"e":22,"d":-14,"t":-1.6},{"e":22,"d":-12,"t":-1.4},{"e":22,"d":-10,"t":-1.7},{"e":22,"d":-8,"t":-1.5},{"e":22,"d":-6,"t":-1.3},{"e":22,"d":-4,"t":-1.0},{"e":22,"d":-2,"t":-0.7},{"e":22,"d":0,"t":0},{"e":22,"d":2,"t":-0.3},{"e":22,"d":4,"t":-0.6},{"e":22,"d":6,"t":-0.4},{"e":22,"d":8,"t":-0.8},{"e":22,"d":10,"t":-0.6},{"e":22,"d":12,"t":-0.9},{"e":22,"d":14,"t":-1.2},{"e":22,"d":16,"t":-0.9},{"e":22,"d":18,"t":-1.3},{"e":22,"d":20,"t":-1.0},
{"e":23,"d":-20,"t":0.9},{"e":23,"d":-18,"t":0.7},{"e":23,"d":-16,"t":0.4},{"e":23,"d":-14,"t":0.7},{"e":23,"d":-12,"t":0.5},{"e":23,"d":-10,"t":0.6},{"e":23,"d":-8,"t":0.3},{"e":23,"d":-6,"t":0.1},{"e":23,"d":-4,"t":-0.1},{"e":23,"d":-2,"t":-0.1},{"e":23,"d":0,"t":0},{"e":23,"d":2,"t":0.5},{"e":23,"d":4,"t":1.0},{"e":23,"d":6,"t":0.8},{"e":23,"d":8,"t":0.6},{"e":23,"d":10,"t":1.0},{"e":23,"d":12,"t":0.7},{"e":23,"d":14,"t":1.1},{"e":23,"d":16,"t":1.4},{"e":23,"d":18,"t":1.0},{"e":23,"d":20,"t":1.2},
{"e":24,"d":-20,"t":-2.4},{"e":24,"d":-18,"t":-2.0},{"e":24,"d":-16,"t":-2.6},{"e":24,"d":-14,"t":-2.3},{"e":24,"d":-12,"t":-2.8},{"e":24,"d":-10,"t":-2.4},{"e":24,"d":-8,"t":-2.6},{"e":24,"d":-6,"t":-2.2},{"e":24,"d":-4,"t":-1.8},{"e":24,"d":-2,"t":-1.1},{"e":24,"d":0,"t":0},{"e":24,"d":2,"t":-0.9},{"e":24,"d":4,"t":-2.1},{"e":24,"d":6,"t":-1.5},{"e":24,"d":8,"t":-1.3},{"e":24,"d":10,"t":-1.7},{"e":24,"d":12,"t":-2.0},{"e":24,"d":14,"t":-2.2},{"e":24,"d":16,"t":-1.9},{"e":24,"d":18,"t":-2.3},{"e":24,"d":20,"t":-2.1},
{"e":25,"d":-20,"t":-0.5},{"e":25,"d":-18,"t":-0.3},{"e":25,"d":-16,"t":-0.7},{"e":25,"d":-14,"t":-0.4},{"e":25,"d":-12,"t":-0.6},{"e":25,"d":-10,"t":-0.2},{"e":25,"d":-8,"t":-0.4},{"e":25,"d":-6,"t":-0.3},{"e":25,"d":-4,"t":-0.2},{"e":25,"d":-2,"t":-0.2},{"e":25,"d":0,"t":0},{"e":25,"d":2,"t":-0.2},{"e":25,"d":4,"t":-0.4},{"e":25,"d":6,"t":-0.7},{"e":25,"d":8,"t":-0.5},{"e":25,"d":10,"t":-0.3},{"e":25,"d":12,"t":-0.6},{"e":25,"d":14,"t":-0.4},{"e":25,"d":16,"t":-0.7},{"e":25,"d":18,"t":-0.5},{"e":25,"d":20,"t":-0.3},
{"e":26,"d":-20,"t":1.8},{"e":26,"d":-18,"t":2.1},{"e":26,"d":-16,"t":1.7},{"e":26,"d":-14,"t":1.5},{"e":26,"d":-12,"t":1.8},{"e":26,"d":-10,"t":1.3},{"e":26,"d":-8,"t":1.5},{"e":26,"d":-6,"t":1.1},{"e":26,"d":-4,"t":0.6},{"e":26,"d":-2,"t":0.2},{"e":26,"d":0,"t":0},{"e":26,"d":2,"t":1.2},{"e":26,"d":4,"t":2.2},{"e":26,"d":6,"t":3.1},{"e":26,"d":8,"t":2.8},{"e":26,"d":10,"t":2.5},{"e":26,"d":12,"t":2.1},{"e":26,"d":14,"t":2.3},{"e":26,"d":16,"t":1.9},{"e":26,"d":18,"t":2.1},{"e":26,"d":20,"t":1.8},
{"e":27,"d":-20,"t":-1.3},{"e":27,"d":-18,"t":-1.0},{"e":27,"d":-16,"t":-1.2},{"e":27,"d":-14,"t":-0.8},{"e":27,"d":-12,"t":-1.0},{"e":27,"d":-10,"t":-1.2},{"e":27,"d":-8,"t":-1.0},{"e":27,"d":-6,"t":-1.3},{"e":27,"d":-4,"t":-1.0},{"e":27,"d":-2,"t":-0.5},{"e":27,"d":0,"t":0},{"e":27,"d":2,"t":-0.7},{"e":27,"d":4,"t":-1.3},{"e":27,"d":6,"t":-2.1},{"e":27,"d":8,"t":-1.8},{"e":27,"d":10,"t":-1.4},{"e":27,"d":12,"t":-1.6},{"e":27,"d":14,"t":-1.3},{"e":27,"d":16,"t":-1.5},{"e":27,"d":18,"t":-1.2},{"e":27,"d":20,"t":-1.4},
{"e":28,"d":-20,"t":0.2},{"e":28,"d":-18,"t":0.0},{"e":28,"d":-16,"t":-0.2},{"e":28,"d":-14,"t":0.1},{"e":28,"d":-12,"t":-0.1},{"e":28,"d":-10,"t":-0.4},{"e":28,"d":-8,"t":-0.2},{"e":28,"d":-6,"t":-0.5},{"e":28,"d":-4,"t":-0.4},{"e":28,"d":-2,"t":-0.3},{"e":28,"d":0,"t":0},{"e":28,"d":2,"t":0.0},{"e":28,"d":4,"t":-0.1},{"e":28,"d":6,"t":0.2},{"e":28,"d":8,"t":-0.2},{"e":28,"d":10,"t":0.3},{"e":28,"d":12,"t":0.1},{"e":28,"d":14,"t":-0.2},{"e":28,"d":16,"t":0.2},{"e":28,"d":18,"t":0.0},{"e":28,"d":20,"t":0.4},
{"e":29,"d":-20,"t":-3.3},{"e":29,"d":-18,"t":-3.0},{"e":29,"d":-16,"t":-2.5},{"e":29,"d":-14,"t":-2.1},{"e":29,"d":-12,"t":-2.4},{"e":29,"d":-10,"t":-2.0},{"e":29,"d":-8,"t":-1.7},{"e":29,"d":-6,"t":-1.5},{"e":29,"d":-4,"t":-1.2},{"e":29,"d":-2,"t":-0.7},{"e":29,"d":0,"t":0},{"e":29,"d":2,"t":-0.4},{"e":29,"d":4,"t":-0.9},{"e":29,"d":6,"t":-1.2},{"e":29,"d":8,"t":-1.0},{"e":29,"d":10,"t":-1.3},{"e":29,"d":12,"t":-1.1},{"e":29,"d":14,"t":-1.5},{"e":29,"d":16,"t":-1.2},{"e":29,"d":18,"t":-1.6},{"e":29,"d":20,"t":-1.3},
{"e":30,"d":-20,"t":0.6},{"e":30,"d":-18,"t":0.9},{"e":30,"d":-16,"t":0.6},{"e":30,"d":-14,"t":0.9},{"e":30,"d":-12,"t":0.6},{"e":30,"d":-10,"t":0.4},{"e":30,"d":-8,"t":0.6},{"e":30,"d":-6,"t":0.3},{"e":30,"d":-4,"t":0.1},{"e":30,"d":-2,"t":0.0},{"e":30,"d":0,"t":0},{"e":30,"d":2,"t":0.4},{"e":30,"d":4,"t":0.7},{"e":30,"d":6,"t":1.0},{"e":30,"d":8,"t":1.5},{"e":30,"d":10,"t":1.2},{"e":30,"d":12,"t":0.8},{"e":30,"d":14,"t":1.0},{"e":30,"d":16,"t":0.7},{"e":30,"d":18,"t":0.9},{"e":30,"d":20,"t":0.6},
{"e":31,"d":-20,"t":-0.8},{"e":31,"d":-18,"t":-0.5},{"e":31,"d":-16,"t":-0.7},{"e":31,"d":-14,"t":-0.4},{"e":31,"d":-12,"t":-0.6},{"e":31,"d":-10,"t":-0.8},{"e":31,"d":-8,"t":-0.5},{"e":31,"d":-6,"t":-0.7},{"e":31,"d":-4,"t":-0.6},{"e":31,"d":-2,"t":-0.4},{"e":31,"d":0,"t":0},{"e":31,"d":2,"t":0.3},{"e":31,"d":4,"t":0.1},{"e":31,"d":6,"t":0.4},{"e":31,"d":8,"t":0.2},{"e":31,"d":10,"t":-0.1},{"e":31,"d":12,"t":0.2},{"e":31,"d":14,"t":-0.1},{"e":31,"d":16,"t":0.1},{"e":31,"d":18,"t":-0.2},{"e":31,"d":20,"t":0.0},
{"e":32,"d":-20,"t":-0.1},{"e":32,"d":-18,"t":0.2},{"e":32,"d":-16,"t":0.0},{"e":32,"d":-14,"t":-0.2},{"e":32,"d":-12,"t":0.1},{"e":32,"d":-10,"t":-0.1},{"e":32,"d":-8,"t":-0.3},{"e":32,"d":-6,"t":-0.2},{"e":32,"d":-4,"t":-0.3},{"e":32,"d":-2,"t":-0.2},{"e":32,"d":0,"t":0},{"e":32,"d":2,"t":-0.3},{"e":32,"d":4,"t":-0.6},{"e":32,"d":6,"t":-0.4},{"e":32,"d":8,"t":-0.7},{"e":32,"d":10,"t":-0.9},{"e":32,"d":12,"t":-0.6},{"e":32,"d":14,"t":-0.9},{"e":32,"d":16,"t":-1.2},{"e":32,"d":18,"t":-0.9},{"e":32,"d":20,"t":-1.1},
{"e":33,"d":-20,"t":-1.5},{"e":33,"d":-18,"t":-1.3},{"e":33,"d":-16,"t":-1.0},{"e":33,"d":-14,"t":-1.2},{"e":33,"d":-12,"t":-0.9},{"e":33,"d":-10,"t":-1.1},{"e":33,"d":-8,"t":-0.8},{"e":33,"d":-6,"t":-1.0},{"e":33,"d":-4,"t":-0.7},{"e":33,"d":-2,"t":-0.5},{"e":33,"d":0,"t":0},{"e":33,"d":2,"t":-0.5},{"e":33,"d":4,"t":-0.9},{"e":33,"d":6,"t":-0.7},{"e":33,"d":8,"t":-1.0},{"e":33,"d":10,"t":-0.8},{"e":33,"d":12,"t":-1.1},{"e":33,"d":14,"t":-1.4},{"e":33,"d":16,"t":-1.7},{"e":33,"d":18,"t":-1.5},{"e":33,"d":20,"t":-1.7},
{"e":34,"d":-20,"t":0.4},{"e":34,"d":-18,"t":0.6},{"e":34,"d":-16,"t":0.3},{"e":34,"d":-14,"t":0.5},{"e":34,"d":-12,"t":0.2},{"e":34,"d":-10,"t":0.4},{"e":34,"d":-8,"t":0.1},{"e":34,"d":-6,"t":-0.1},{"e":34,"d":-4,"t":-0.2},{"e":34,"d":-2,"t":-0.1},{"e":34,"d":0,"t":0},{"e":34,"d":2,"t":0.2},{"e":34,"d":4,"t":0.5},{"e":34,"d":6,"t":0.3},{"e":34,"d":8,"t":0.7},{"e":34,"d":10,"t":0.4},{"e":34,"d":12,"t":0.8},{"e":34,"d":14,"t":0.5},{"e":34,"d":16,"t":0.3},{"e":34,"d":18,"t":0.6},{"e":34,"d":20,"t":0.8},
{"e":35,"d":-20,"t":-0.4},{"e":35,"d":-18,"t":-0.7},{"e":35,"d":-16,"t":-0.9},{"e":35,"d":-14,"t":-0.6},{"e":35,"d":-12,"t":-0.9},{"e":35,"d":-10,"t":-0.7},{"e":35,"d":-8,"t":-0.4},{"e":35,"d":-6,"t":-0.6},{"e":35,"d":-4,"t":-0.5},{"e":35,"d":-2,"t":-0.3},{"e":35,"d":0,"t":0},{"e":35,"d":2,"t":-0.1},{"e":35,"d":4,"t":-0.4},{"e":35,"d":6,"t":-0.2},{"e":35,"d":8,"t":0.1},{"e":35,"d":10,"t":-0.2},{"e":35,"d":12,"t":0.1},{"e":35,"d":14,"t":0.4},{"e":35,"d":16,"t":0.1},{"e":35,"d":18,"t":0.3},{"e":35,"d":20,"t":0.0},
{"e":36,"d":-20,"t":1.0},{"e":36,"d":-18,"t":0.7},{"e":36,"d":-16,"t":0.9},{"e":36,"d":-14,"t":0.6},{"e":36,"d":-12,"t":0.3},{"e":36,"d":-10,"t":0.5},{"e":36,"d":-8,"t":0.2},{"e":36,"d":-6,"t":0.3},{"e":36,"d":-4,"t":0.0},{"e":36,"d":-2,"t":-0.1},{"e":36,"d":0,"t":0},{"e":36,"d":2,"t":0.3},{"e":36,"d":4,"t":0.1},{"e":36,"d":6,"t":-0.2},{"e":36,"d":8,"t":-0.4},{"e":36,"d":10,"t":-0.2},{"e":36,"d":12,"t":-0.5},{"e":36,"d":14,"t":-0.8},{"e":36,"d":16,"t":-0.6},{"e":36,"d":18,"t":-0.9},{"e":36,"d":20,"t":-0.7},
{"e":37,"d":-20,"t":-1.1},{"e":37,"d":-18,"t":-1.4},{"e":37,"d":-16,"t":-1.7},{"e":37,"d":-14,"t":-1.4},{"e":37,"d":-12,"t":-1.6},{"e":37,"d":-10,"t":-1.3},{"e":37,"d":-8,"t":-1.0},{"e":37,"d":-6,"t":-1.2},{"e":37,"d":-4,"t":-0.9},{"e":37,"d":-2,"t":-0.6},{"e":37,"d":0,"t":0},{"e":37,"d":2,"t":-0.4},{"e":37,"d":4,"t":-0.7},{"e":37,"d":6,"t":-1.0},{"e":37,"d":8,"t":-1.3},{"e":37,"d":10,"t":-1.1},{"e":37,"d":12,"t":-1.4},{"e":37,"d":14,"t":-1.2},{"e":37,"d":16,"t":-0.9},{"e":37,"d":18,"t":-1.1},{"e":37,"d":20,"t":-0.8},
{"e":38,"d":-20,"t":0.1},{"e":38,"d":-18,"t":-0.1},{"e":38,"d":-16,"t":0.3},{"e":38,"d":-14,"t":0.0},{"e":38,"d":-12,"t":-0.2},{"e":38,"d":-10,"t":-0.5},{"e":38,"d":-8,"t":-0.3},{"e":38,"d":-6,"t":-0.5},{"e":38,"d":-4,"t":-0.3},{"e":38,"d":-2,"t":-0.2},{"e":38,"d":0,"t":0},{"e":38,"d":2,"t":0.1},{"e":38,"d":4,"t":0.4},{"e":38,"d":6,"t":0.7},{"e":38,"d":8,"t":0.5},{"e":38,"d":10,"t":0.8},{"e":38,"d":12,"t":1.1},{"e":38,"d":14,"t":0.8},{"e":38,"d":16,"t":0.6},{"e":38,"d":18,"t":0.9},{"e":38,"d":20,"t":1.1},
{"e":39,"d":-20,"t":-2.0},{"e":39,"d":-18,"t":-1.7},{"e":39,"d":-16,"t":-1.4},{"e":39,"d":-14,"t":-1.6},{"e":39,"d":-12,"t":-1.3},{"e":39,"d":-10,"t":-1.5},{"e":39,"d":-8,"t":-1.2},{"e":39,"d":-6,"t":-0.9},{"e":39,"d":-4,"t":-1.1},{"e":39,"d":-2,"t":-0.6},{"e":39,"d":0,"t":0},{"e":39,"d":2,"t":-0.6},{"e":39,"d":4,"t":-1.2},{"e":39,"d":6,"t":-1.6},{"e":39,"d":8,"t":-1.9},{"e":39,"d":10,"t":-1.7},{"e":39,"d":12,"t":-2.0},{"e":39,"d":14,"t":-1.8},{"e":39,"d":16,"t":-2.1},{"e":39,"d":18,"t":-2.4},{"e":39,"d":20,"t":-2.2},
{"e":40,"d":-20,"t":0.8},{"e":40,"d":-18,"t":1.1},{"e":40,"d":-16,"t":0.8},{"e":40,"d":-14,"t":1.0},{"e":40,"d":-12,"t":0.7},{"e":40,"d":-10,"t":0.9},{"e":40,"d":-8,"t":0.5},{"e":40,"d":-6,"t":0.6},{"e":40,"d":-4,"t":0.3},{"e":40,"d":-2,"t":0.1},{"e":40,"d":0,"t":0},{"e":40,"d":2,"t":-0.2},{"e":40,"d":4,"t":-0.5},{"e":40,"d":6,"t":-0.8},{"e":40,"d":8,"t":-0.6},{"e":40,"d":10,"t":-0.9},{"e":40,"d":12,"t":-1.1},{"e":40,"d":14,"t":-0.8},{"e":40,"d":16,"t":-1.0},{"e":40,"d":18,"t":-1.3},{"e":40,"d":20,"t":-1.1},
{"e":41,"d":-20,"t":-0.7},{"e":41,"d":-18,"t":-0.9},{"e":41,"d":-16,"t":-0.6},{"e":41,"d":-14,"t":-0.3},{"e":41,"d":-12,"t":-0.5},{"e":41,"d":-10,"t":-0.2},{"e":41,"d":-8,"t":-0.4},{"e":41,"d":-6,"t":-0.1},{"e":41,"d":-4,"t":-0.3},{"e":41,"d":-2,"t":-0.2},{"e":41,"d":0,"t":0},{"e":41,"d":2,"t":-0.3},{"e":41,"d":4,"t":-0.2},{"e":41,"d":6,"t":-0.5},{"e":41,"d":8,"t":-0.3},{"e":41,"d":10,"t":-0.6},{"e":41,"d":12,"t":-0.4},{"e":41,"d":14,"t":-0.7},{"e":41,"d":16,"t":-0.5},{"e":41,"d":18,"t":-0.8},{"e":41,"d":20,"t":-0.6},
{"e":42,"d":-20,"t":1.4},{"e":42,"d":-18,"t":1.6},{"e":42,"d":-16,"t":1.3},{"e":42,"d":-14,"t":1.1},{"e":42,"d":-12,"t":1.4},{"e":42,"d":-10,"t":1.0},{"e":42,"d":-8,"t":0.8},{"e":42,"d":-6,"t":0.9},{"e":42,"d":-4,"t":0.4},{"e":42,"d":-2,"t":0.1},{"e":42,"d":0,"t":0},{"e":42,"d":2,"t":0.6},{"e":42,"d":4,"t":1.3},{"e":42,"d":6,"t":1.1},{"e":42,"d":8,"t":1.6},{"e":42,"d":10,"t":1.9},{"e":42,"d":12,"t":1.6},{"e":42,"d":14,"t":2.0},{"e":42,"d":16,"t":1.7},{"e":42,"d":18,"t":1.5},{"e":42,"d":20,"t":1.7}
],
"ga": [
{"d":-20,"t":-0.23},{"d":-18,"t":-0.45},{"d":-16,"t":-0.65},{"d":-14,"t":-0.78},{"d":-12,"t":-0.8},{"d":-11,"t":-0.77},{"d":-10,"t":-0.7},{"d":-8,"t":-0.45},{"d":-7,"t":-0.28},{"d":-6,"t":-0.15},{"d":-5,"t":0.0},{"d":-4,"t":0.1},{"d":-2,"t":0.22},{"d":-1,"t":0.2},{"d":0,"t":0},{"d":1,"t":-0.12},{"d":2,"t":-0.35},{"d":3,"t":-0.7},{"d":4,"t":-0.85},{"d":6,"t":-0.9},{"d":8,"t":-0.95},{"d":10,"t":-1.05},{"d":12,"t":-1.2},{"d":14,"t":-1.4},{"d":16,"t":-1.45},{"d":18,"t":-1.42},{"d":20,"t":-1.4}
],
"ra": [
{"d":-20,"t":0.22},{"d":-18,"t":0.28},{"d":-16,"t":0.32},{"d":-14,"t":0.35},{"d":-12,"t":0.34},{"d":-10,"t":0.33},{"d":-8,"t":0.38},{"d":-6,"t":0.48},{"d":-4,"t":0.56},{"d":-3,"t":0.58},{"d":-2,"t":0.55},{"d":-1,"t":0.3},{"d":0,"t":0},{"d":1,"t":-0.12},{"d":2,"t":-0.08},{"d":4,"t":-0.04},{"d":6,"t":0.0},{"d":8,"t":0.04},{"d":10,"t":0.08},{"d":12,"t":0.1},{"d":14,"t":0.12},{"d":16,"t":0.2},{"d":18,"t":0.28},{"d":20,"t":0.33}
],
"gb": [
{"d":-20,"t":-2.05},{"d":-19,"t":-1.85},{"d":-18,"t":-1.72},{"d":-16,"t":-1.6},{"d":-14,"t":-1.45},{"d":-12,"t":-1.2},{"d":-11,"t":-1.1},{"d":-10,"t":-1.12},{"d":-9,"t":-1.25},{"d":-8,"t":-1.3},{"d":-7,"t":-1.2},{"d":-6,"t":-1.1},{"d":-5,"t":-0.95},{"d":-4,"t":-0.7},{"d":-3,"t":-0.8},{"d":-2,"t":-0.55},{"d":-1,"t":-0.3},{"d":0,"t":0},{"d":1,"t":0.25},{"d":2,"t":0.42},{"d":3,"t":0.58},{"d":4,"t":0.85},{"d":5,"t":1.1},{"d":6,"t":1.12},{"d":7,"t":1.05},{"d":8,"t":1.25},{"d":9,"t":1.32},{"d":10,"t":1.25},{"d":11,"t":1.45},{"d":12,"t":1.75},{"d":13,"t":2.2},{"d":14,"t":2.45},{"d":15,"t":2.42},{"d":16,"t":2.2},{"d":17,"t":2.0},{"d":18,"t":1.6},{"d":19,"t":0.9},{"d":20,"t":0.05}
],
"rb": [
{"d":-20,"t":-0.37},{"d":-18,"t":-0.38},{"d":-16,"t":-0.4},{"d":-14,"t":-0.4},{"d":-12,"t":-0.45},{"d":-10,"t":-0.5},{"d":-8,"t":-0.55},{"d":-6,"t":-0.55},{"d":-4,"t":-0.53},{"d":-3,"t":-0.45},{"d":-2,"t":-0.3},{"d":-1,"t":-0.15},{"d":0,"t":0},{"d":1,"t":0.12},{"d":2,"t":0.08},{"d":4,"t":-0.02},{"d":6,"t":-0.06},{"d":8,"t":-0.12},{"d":10,"t":-0.17},{"d":12,"t":-0.27},{"d":14,"t":-0.3},{"d":16,"t":-0.32},{"d":18,"t":-0.33},{"d":20,"t":-0.35}
],
"arrows": [{"x":-6,"x2":6,"y":-4,"y2":-4},{"x":0,"x2":0,"y":-4,"y2":-1.15}],
"heads": [{"x":-6,"y":-4,"s":"left"},{"x":6,"y":-4,"s":"right"},{"x":0,"y":-1.15,"s":"up"}],
"labA": [{"x":-10.4,"y":-4,"txt":"(before)"},{"x":10.0,"y":-4,"txt":"(after)"},{"x":0,"y":-4.55,"txt":"−EOF1 peak"}],
"labB": [{"x":-10.6,"y":-4,"txt":"(before)"},{"x":9.9,"y":-4,"txt":"(after)"},{"x":0,"y":-4.55,"txt":"+EOF1 peak"}],
"tagA": [{"x":-20,"y":5,"txt":"A"}],
"tagB": [{"x":-20,"y":5,"txt":"B"}]
},
"hconcat": [
{
"width": 435, "height": 298,
"title": {"text": "Temperature change during −EOF1 events"},
"resolve": {"axis": {"x": "independent", "y": "independent"}},
"layer": [
{"data": {"name": "a"}, "mark": {"type": "line", "stroke": "#000", "strokeWidth": 1, "opacity": 0.62, "clip": true},
 "encoding": {
  "x": {"field": "d", "type": "quantitative", "scale": {"domain": [-20, 20], "nice": false, "zero": false}, "axis": {"orient": "bottom", "values": [-20, -10, 0, 10, 20], "tickSize": 6, "tickWidth": 1.5, "labelFontSize": 21, "labelPadding": 6, "title": "Days from EOF1 peak for each event", "titleFontSize": 23, "titlePadding": 1}},
  "y": {"field": "t", "type": "quantitative", "scale": {"domain": [-5, 5], "nice": false, "zero": false}, "axis": {"orient": "left", "values": [-4, -3, -2, -1, 0, 1, 2, 3, 4], "format": "d", "tickSize": 6, "tickWidth": 1.5, "labelFontSize": 21, "labelPadding": 4, "title": "Temperature change [°C]", "titleFontSize": 22, "titlePadding": 13}},
  "detail": {"field": "e", "type": "nominal"}}},
{"data": {"name": "ga"}, "mark": {"type": "line", "stroke": "#22dd22", "strokeWidth": 2},
 "encoding": {
  "x": {"field": "d", "type": "quantitative", "axis": {"orient": "top", "values": [-20, -10, 0, 10, 20], "tickSize": 6, "tickWidth": 1.5, "labels": false, "title": null}},
  "y": {"field": "t", "type": "quantitative", "axis": {"orient": "right", "values": [-5, -4, -3, -2, -1, 0, 1, 2, 3, 4, 5], "tickSize": 6, "tickWidth": 1.5, "labels": false, "title": null}}}},
{"data": {"name": "ra"}, "mark": {"type": "line", "stroke": "#f01515", "strokeWidth": 2.5},
 "encoding": {
  "x": {"field": "d", "type": "quantitative", "axis": {"orient": "bottom", "values": [-20,-19,-18,-17,-16,-15,-14,-13,-12,-11,-10,-9,-8,-7,-6,-5,-4,-3,-2,-1,0,1,2,3,4,5,6,7,8,9,10,11,12,13,14,15,16,17,18,19,20], "tickSize": 3, "tickWidth": 1.2, "labels": false, "title": null}},
  "y": {"field": "t", "type": "quantitative", "axis": {"orient": "left", "values": [-5,-4.5,-4,-3.5,-3,-2.5,-2,-1.5,-1,-0.5,0,0.5,1,1.5,2,2.5,3,3.5,4,4.5,5], "tickSize": 3, "tickWidth": 1.2, "labels": false, "title": null}}}},
{"data": {"name": "arrows"}, "mark": {"type": "rule", "stroke": "#1dbdc0", "strokeWidth": 2.5},
 "encoding": {
  "x": {"field": "x", "type": "quantitative", "axis": {"orient": "top", "values": [-20,-19,-18,-17,-16,-15,-14,-13,-12,-11,-10,-9,-8,-7,-6,-5,-4,-3,-2,-1,0,1,2,3,4,5,6,7,8,9,10,11,12,13,14,15,16,17,18,19,20], "tickSize": 3, "tickWidth": 1.2, "labels": false, "title": null}},
  "x2": {"field": "x2"},
  "y": {"field": "y", "type": "quantitative", "axis": {"orient": "right", "values": [-5,-4.5,-4,-3.5,-3,-2.5,-2,-1.5,-1,-0.5,0,0.5,1,1.5,2,2.5,3,3.5,4,4.5,5], "tickSize": 3, "tickWidth": 1.2, "labels": false, "title": null}},
  "y2": {"field": "y2"}}},
{"data": {"name": "heads"}, "mark": {"type": "point", "filled": false, "color": "#1dbdc0", "strokeWidth": 2.5, "size": 196, "opacity": 1},
 "encoding": {
  "x": {"field": "x", "type": "quantitative", "axis": null},
  "y": {"field": "y", "type": "quantitative", "axis": null},
  "shape": {"field": "s", "type": "nominal", "scale": {"domain": ["left", "right", "up"], "range": ["M2,-1L0,0L2,1", "M-2,-1L0,0L-2,1", "M-1,2L0,0L1,2"]}, "legend": null}}},
{"data": {"name": "labA"}, "mark": {"type": "text", "color": "#1dbdc0", "fontSize": 23, "font": "Liberation Sans", "align": "center", "baseline": "middle"},
 "encoding": {
  "x": {"field": "x", "type": "quantitative", "axis": null},
  "y": {"field": "y", "type": "quantitative", "axis": null},
  "text": {"field": "txt"}}},
{"data": {"name": "tagA"}, "mark": {"type": "text", "color": "#000", "fontSize": 23, "fontWeight": "bold", "font": "Liberation Sans", "align": "left", "baseline": "alphabetic", "dx": 1, "dy": -15, "clip": false},
 "encoding": {
  "x": {"field": "x", "type": "quantitative", "axis": null},
  "y": {"field": "y", "type": "quantitative", "axis": null},
  "text": {"field": "txt"}}}
]
},
{
"width": 433, "height": 298,
"title": {"text": "Temperature change during +EOF1 events"},
"resolve": {"axis": {"x": "independent", "y": "independent"}},
"layer": [
{"data": {"name": "b"}, "mark": {"type": "line", "stroke": "#000", "strokeWidth": 1, "opacity": 0.62, "clip": true},
 "encoding": {
  "x": {"field": "d", "type": "quantitative", "scale": {"domain": [-20, 20], "nice": false, "zero": false}, "axis": {"orient": "bottom", "values": [-20, -10, 0, 10, 20], "tickSize": 6, "tickWidth": 1.5, "labelFontSize": 21, "labelPadding": 6, "title": "Days from EOF1 peak for each event", "titleFontSize": 23, "titlePadding": 1}},
  "y": {"field": "t", "type": "quantitative", "scale": {"domain": [-5, 5], "nice": false, "zero": false}, "axis": {"orient": "left", "values": [-4, -3, -2, -1, 0, 1, 2, 3, 4], "format": "d", "tickSize": 6, "tickWidth": 1.5, "labelFontSize": 21, "labelPadding": 4, "title": "Temperature change [°C]", "titleFontSize": 22, "titlePadding": 13}},
  "detail": {"field": "e", "type": "nominal"}}},
{"data": {"name": "gb"}, "mark": {"type": "line", "stroke": "#22dd22", "strokeWidth": 2},
 "encoding": {
  "x": {"field": "d", "type": "quantitative", "axis": {"orient": "top", "values": [-20, -10, 0, 10, 20], "tickSize": 6, "tickWidth": 1.5, "labels": false, "title": null}},
  "y": {"field": "t", "type": "quantitative", "axis": {"orient": "right", "values": [-5, -4, -3, -2, -1, 0, 1, 2, 3, 4, 5], "tickSize": 6, "tickWidth": 1.5, "labels": false, "title": null}}}},
{"data": {"name": "rb"}, "mark": {"type": "line", "stroke": "#f01515", "strokeWidth": 2.5},
 "encoding": {
  "x": {"field": "d", "type": "quantitative", "axis": {"orient": "bottom", "values": [-20,-19,-18,-17,-16,-15,-14,-13,-12,-11,-10,-9,-8,-7,-6,-5,-4,-3,-2,-1,0,1,2,3,4,5,6,7,8,9,10,11,12,13,14,15,16,17,18,19,20], "tickSize": 3, "tickWidth": 1.2, "labels": false, "title": null}},
  "y": {"field": "t", "type": "quantitative", "axis": {"orient": "left", "values": [-5,-4.5,-4,-3.5,-3,-2.5,-2,-1.5,-1,-0.5,0,0.5,1,1.5,2,2.5,3,3.5,4,4.5,5], "tickSize": 3, "tickWidth": 1.2, "labels": false, "title": null}}}},
{"data": {"name": "arrows"}, "mark": {"type": "rule", "stroke": "#1dbdc0", "strokeWidth": 2.5},
 "encoding": {
  "x": {"field": "x", "type": "quantitative", "axis": {"orient": "top", "values": [-20,-19,-18,-17,-16,-15,-14,-13,-12,-11,-10,-9,-8,-7,-6,-5,-4,-3,-2,-1,0,1,2,3,4,5,6,7,8,9,10,11,12,13,14,15,16,17,18,19,20], "tickSize": 3, "tickWidth": 1.2, "labels": false, "title": null}},
  "x2": {"field": "x2"},
  "y": {"field": "y", "type": "quantitative", "axis": {"orient": "right", "values": [-5,-4.5,-4,-3.5,-3,-2.5,-2,-1.5,-1,-0.5,0,0.5,1,1.5,2,2.5,3,3.5,4,4.5,5], "tickSize": 3, "tickWidth": 1.2, "labels": false, "title": null}},
  "y2": {"field": "y2"}}},
{"data": {"name": "heads"}, "mark": {"type": "point", "filled": false, "color": "#1dbdc0", "strokeWidth": 2.5, "size": 196, "opacity": 1},
 "encoding": {
  "x": {"field": "x", "type": "quantitative", "axis": null},
  "y": {"field": "y", "type": "quantitative", "axis": null},
  "shape": {"field": "s", "type": "nominal", "scale": {"domain": ["left", "right", "up"], "range": ["M2,-1L0,0L2,1", "M-2,-1L0,0L-2,1", "M-1,2L0,0L1,2"]}, "legend": null}}},
{"data": {"name": "labB"}, "mark": {"type": "text", "color": "#1dbdc0", "fontSize": 23, "font": "Liberation Sans", "align": "center", "baseline": "middle"},
 "encoding": {
  "x": {"field": "x", "type": "quantitative", "axis": null},
  "y": {"field": "y", "type": "quantitative", "axis": null},
  "text": {"field": "txt"}}},
{"data": {"name": "tagB"}, "mark": {"type": "text", "color": "#000", "fontSize": 23, "fontWeight": "bold", "font": "Liberation Sans", "align": "left", "baseline": "alphabetic", "dx": 1, "dy": -15, "clip": false},
 "encoding": {
  "x": {"field": "x", "type": "quantitative", "axis": null},
  "y": {"field": "y", "type": "quantitative", "axis": null},
  "text": {"field": "txt"}}}
]
}
]
}
